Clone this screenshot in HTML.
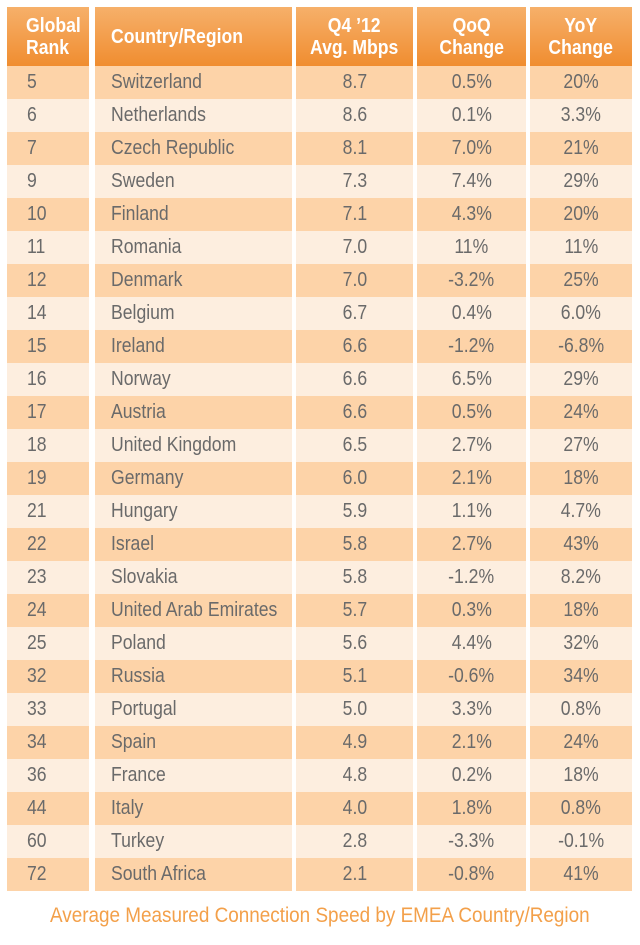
<!DOCTYPE html>
<html><head><meta charset="utf-8"><style>
body{margin:0;width:640px;height:945px;background:#fff;font-family:"Liberation Sans",sans-serif;position:relative;overflow:hidden}
.c{position:absolute;box-sizing:border-box;display:flex;align-items:center;color:#6a6a6a;font-size:20px}
.h{background:linear-gradient(#f6b06a,#f08d30);color:#fff;font-weight:bold;font-size:20px;line-height:22px;text-align:center;justify-content:center}
.h.l{justify-content:flex-start;text-align:left}
.t{display:inline-block;transform:scaleX(0.88);white-space:nowrap}
.l .t{transform-origin:left center}
.m{justify-content:center}
.cap{position:absolute;top:904px;left:0;width:640px;text-align:center;color:#f3a04a;font-size:21px}
</style></head><body>
<div id="g"></div>
<div class="cap"><span class="t" style="transform:scaleX(0.9)">Average Measured Connection Speed by EMEA Country/Region</span></div>
<script>
var cols=[[7,82,'m'],[95,197,'l'],[296,117,'m'],[417,109,'m'],[530,102,'m']];
var hd=['Global<br>Rank','Country/Region','Q4 ’12<br>Avg. Mbps','QoQ<br>Change','YoY<br>Change'];
var d=`5|Switzerland|8.7|0.5%|20%
6|Netherlands|8.6|0.1%|3.3%
7|Czech Republic|8.1|7.0%|21%
9|Sweden|7.3|7.4%|29%
10|Finland|7.1|4.3%|20%
11|Romania|7.0|11%|11%
12|Denmark|7.0|-3.2%|25%
14|Belgium|6.7|0.4%|6.0%
15|Ireland|6.6|-1.2%|-6.8%
16|Norway|6.6|6.5%|29%
17|Austria|6.6|0.5%|24%
18|United Kingdom|6.5|2.7%|27%
19|Germany|6.0|2.1%|18%
21|Hungary|5.9|1.1%|4.7%
22|Israel|5.8|2.7%|43%
23|Slovakia|5.8|-1.2%|8.2%
24|United Arab Emirates|5.7|0.3%|18%
25|Poland|5.6|4.4%|32%
32|Russia|5.1|-0.6%|34%
33|Portugal|5.0|3.3%|0.8%
34|Spain|4.9|2.1%|24%
36|France|4.8|0.2%|18%
44|Italy|4.0|1.8%|0.8%
60|Turkey|2.8|-3.3%|-0.1%
72|South Africa|2.1|-0.8%|41%`.split('\n');
var h='';
cols.forEach(function(c,i){var p=i==0?'padding-left:19px;':(i==1?'padding-left:16px;':'');
h+='<div class="c h '+(i<2?'l':'')+'" style="left:'+c[0]+'px;top:7px;width:'+c[1]+'px;height:59px;'+p+'"><span class="t" style="transform:scaleX(0.88);transform-origin:'+(i<2?'left':'center')+' center">'+hd[i]+'</span></div>';});
d.forEach(function(r,j){var v=r.split('|');var y=66+j*33;var bg=j%2?'#fdeedf':'#fdd3a8';
cols.forEach(function(c,i){var st='left:'+c[0]+'px;top:'+y+'px;width:'+c[1]+'px;height:33px;background:'+bg+';';
if(i==0)st+='padding-left:20px;';if(i==1)st+='padding-left:16px;';
h+='<div class="c '+(i<2?'l':'m')+'" style="'+st+'"><span class="t">'+v[i]+'</span></div>';});});
document.getElementById('g').innerHTML=h;
</script>
</body></html>
